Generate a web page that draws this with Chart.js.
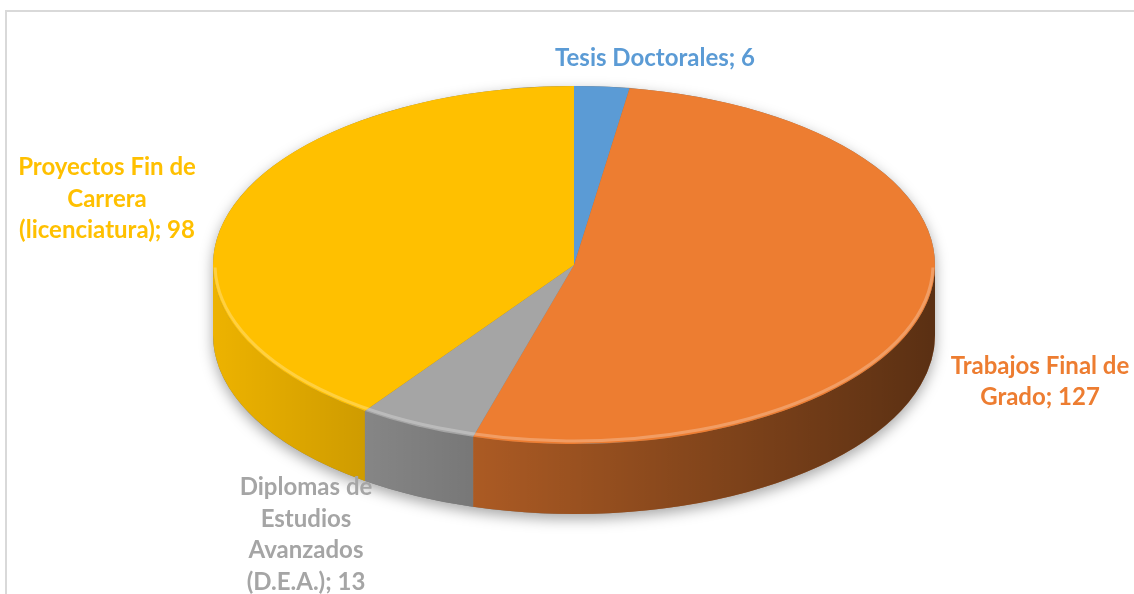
<!DOCTYPE html>
<html>
<head>
<meta charset="utf-8">
<script src="https://cdn.jsdelivr.net/npm/chart.js@4/dist/chart.umd.min.js"></script>
<style>
  html, body { margin: 0; padding: 0; background: #fff; overflow: hidden; }
  #wrap { position: relative; width: 1134px; height: 594px; }
  #frame { position: absolute; left: 5px; top: 10px; right: -10px; bottom: -10px;
           border-left: 2px solid #d9d9d9; border-top: 2px solid #d9d9d9; }
  #pie { position: absolute; left: 0; top: 0; }
</style>
</head>
<body>
<div id="wrap">
  <div id="frame"></div>
  <canvas id="pie" width="1134" height="594"></canvas>
</div>
<script>
// data
const categories = [
    ['Tesis Doctorales'],
    ['Trabajos Final de', 'Grado'],
    ['Diplomas de', 'Estudios', 'Avanzados', '(D.E.A.)'],
    ['Proyectos Fin de', 'Carrera', '(licenciatura)']
];
const values = [6, 127, 13, 98];
const colors = ['#5B9BD5', '#ED7D31', '#A5A5A5', '#FFC000'];

// where the flattened pie sits on the page
const CX = 574, CY = 265, RX = 361, RY = 179, DEPTH = 70;
// label block centres (Excel puts them by hand, so do we)
const labelPos = [[655, 58], [1040, 382], [306, 535], [107, 199]];
const LINE_H = 31.5;

const pie3d = {
    id: 'pie3d',
    beforeDatasetsDraw(chart) {
        const ctx = chart.ctx;
        const arcs = chart.getDatasetMeta(0).data;
        const a0 = arcs[0];

        // soft shadow under the whole cake
        ctx.save();
        ctx.shadowColor = 'rgba(0,0,0,0.35)';
        ctx.shadowBlur = 14;
        ctx.shadowOffsetY = 5;
        ctx.fillStyle = '#777';
        ctx.beginPath();
        ctx.ellipse(CX, CY, RX, RY, 0, Math.PI, 2 * Math.PI);
        ctx.ellipse(CX, CY + DEPTH, RX, RY, 0, 0, Math.PI);
        ctx.closePath();
        ctx.fill();
        ctx.restore();

        // side walls, only the front half shows
        arcs.forEach((arc, i) => {
            const lo = Math.max(arc.startAngle, 0);
            const hi = Math.min(arc.endAngle, Math.PI);
            if (hi <= lo) return;
            ctx.beginPath();
            ctx.ellipse(CX, CY, RX, RY, 0, lo, hi);
            ctx.ellipse(CX, CY + DEPTH, RX, RY, 0, hi, lo, true);
            ctx.closePath();
            ctx.fillStyle = colors[i];
            ctx.fill();
            const g = ctx.createLinearGradient(CX - RX, 0, CX + RX, 0);
            g.addColorStop(0, 'rgba(0,0,0,0.07)');
            g.addColorStop(0.35, 'rgba(0,0,0,0.27)');
            g.addColorStop(1, 'rgba(0,0,0,0.62)');
            ctx.fillStyle = g;
            ctx.fill();
        });

        // squash the round pie into the ellipse for the top faces
        ctx.save();
        ctx.translate(CX, CY);
        ctx.scale(RX / a0.outerRadius, RY / a0.outerRadius);
        ctx.translate(-a0.x, -a0.y);
    },
    afterDatasetsDraw(chart) {
        const ctx = chart.ctx;
        ctx.restore();

        // bevel highlight on the front rim
        ctx.save();
        ctx.beginPath();
        ctx.ellipse(CX, CY - 1, RX - 2, RY - 2, 0, 0.02, Math.PI - 0.02);
        ctx.strokeStyle = 'rgba(255,255,255,0.25)';
        ctx.lineWidth = 3;
        ctx.stroke();
        ctx.restore();

        // data labels
        ctx.save();
        ctx.font = 'bold 24px Lato, "Open Sans", sans-serif';
        ctx.textAlign = 'center';
        ctx.textBaseline = 'middle';
        categories.forEach((lines, i) => {
            const txt = lines.slice();
            txt[txt.length - 1] += '; ' + values[i];
            const [x, y] = labelPos[i];
            const y0 = y - (txt.length - 1) * LINE_H / 2;
            ctx.fillStyle = colors[i];
            txt.forEach((t, k) => ctx.fillText(t, x, y0 + k * LINE_H));
        });
        ctx.restore();
    }
};

new Chart(document.getElementById('pie'), {
    type: 'pie',
    data: {
        labels: categories,
        datasets: [{
            data: values,
            backgroundColor: colors,
            borderWidth: 0,
            clip: false
        }]
    },
    options: {
        responsive: false,
        animation: false,
        layout: { padding: 20 },
        plugins: {
            legend: { display: false },
            tooltip: { enabled: false }
        }
    },
    plugins: [pie3d]
});
</script>
</body>
</html>
